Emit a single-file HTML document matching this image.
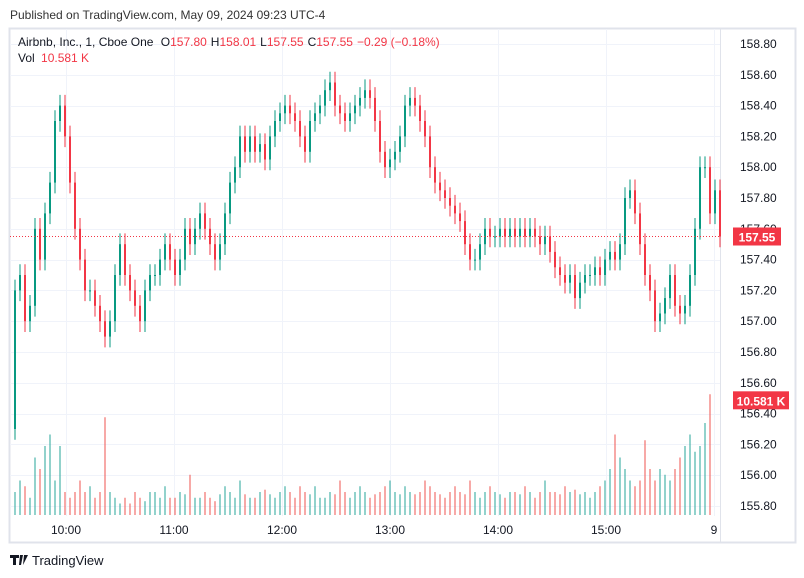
<!DOCTYPE html>
<html><head><meta charset="utf-8"><style>
body{margin:0;width:804px;height:578px;background:#fff;font-family:"Liberation Sans",sans-serif;overflow:hidden}
</style></head><body>
<svg id="c" width="804" height="578" xmlns="http://www.w3.org/2000/svg" style="position:absolute;left:0;top:0">
<text x="10" y="19" font-size="12" fill="#333">Published on TradingView.com, May 09, 2024 09:23 UTC-4</text>
<rect x="9.5" y="28.5" width="786" height="514" fill="none" stroke="#e0e3eb" stroke-width="2"/>
<line x1="720.5" y1="28" x2="720.5" y2="542" stroke="#e0e3eb"/>
<g id="grid"></g>
<g id="vol"></g>
<g id="candles"></g>
<g id="axes"></g>
<text x="18" y="46" font-size="12" fill="#131722">Airbnb, Inc., 1, Cboe One <tspan dx="4">O</tspan><tspan fill="#f23645">157.80</tspan><tspan dx="4">H</tspan><tspan fill="#f23645">158.01</tspan><tspan dx="4">L</tspan><tspan fill="#f23645">157.55</tspan><tspan dx="4">C</tspan><tspan fill="#f23645">157.55</tspan><tspan dx="4" fill="#f23645">−0.29 (−0.18%)</tspan></text>
<text x="18" y="62" font-size="12" fill="#131722">Vol <tspan dx="3" fill="#f23645">10.581 K</tspan></text>
<g><path d="M10 555h9v3h-3v7h-3v-7h-3zM20 555h3l-2 10h-2zM24 555h4l-5 10z" fill="#131722"/><text x="32" y="565" font-size="13" fill="#131722">TradingView</text></g>
</svg>
<script>
const closes=[157.2,157.3,157.0,157.1,157.6,157.4,157.7,157.9,158.3,158.4,158.2,157.9,157.6,157.4,157.2,157.2,157.1,157.0,156.9,157.0,157.3,157.5,157.3,157.2,157.1,157.0,157.2,157.3,157.3,157.4,157.5,157.4,157.3,157.4,157.6,157.5,157.6,157.7,157.6,157.5,157.4,157.5,157.7,157.9,158.0,158.2,158.1,158.2,158.1,158.15,158.05,158.2,158.3,158.35,158.4,158.35,158.3,158.2,158.1,158.3,158.35,158.4,158.5,158.55,158.4,158.35,158.3,158.35,158.4,158.45,158.5,158.45,158.3,158.1,158.0,158.05,158.1,158.2,158.4,158.45,158.4,158.3,158.2,158.0,157.9,157.85,157.8,157.75,157.7,157.65,157.5,157.4,157.4,157.5,157.6,157.55,157.55,157.6,157.55,157.6,157.55,157.6,157.55,157.6,157.55,157.5,157.55,157.45,157.35,157.3,157.25,157.3,157.15,157.25,157.3,157.3,157.35,157.3,157.4,157.45,157.4,157.5,157.8,157.85,157.7,157.5,157.3,157.2,157.0,157.05,157.15,157.3,157.1,157.05,157.1,157.3,157.6,158.0,158.0,157.7,157.85,157.55];
const firstOpen=156.3;
const volumes=[2,3,2.5,1.5,5,4,6,7,3,6,2,1.5,2,3,2,2.5,1.5,2,8.5,2,1.5,1,1.5,1,2,1.5,1.2,2,2,1.5,2.5,1.5,1.5,2,1.8,3.5,1.5,1.5,2,1.5,1.2,1.8,2.5,2,1.5,3,1.8,1.5,1.5,2,2.2,1.8,1.5,2,2.5,2,1.5,2.5,2,1.8,2.5,1.5,1.5,2,1.8,3,2,1.5,2,2.5,2,1.5,1.8,2,2.5,3,2,1.8,2.5,2,1.8,2,3,2.5,2,1.8,1.5,2,2.5,2,1.8,3,2,1.5,2,2.5,2,1.8,1.5,2,2,1.8,2.5,2,1.5,2,3,2,2,1.8,2.5,2,2.2,1.8,2,1.5,2,2.5,3,4,7,5,4,3,2.5,3,6.5,4,3,4,3.5,3,4,5,6,7,5.5,6,8,10.5];
const priceTicks=[158.8,158.6,158.4,158.2,158.0,157.8,157.6,157.4,157.2,157.0,156.8,156.6,156.4,156.2,156.0,155.8];
const timeTicks=["10:00","11:00","12:00","13:00","14:00","15:00","9"];
const timeMinutes=[30,90,150,210,270,330,390];
const lastPrice=157.55, lastVol=10.581;

const NS="http://www.w3.org/2000/svg";
function y(p){return 44+(158.8-p)*154;}
function xi(i){return 15+5*i;}
function xt(m){return 12+m*1.8;}
function vy(v){return 515-v*11.5;}
function mk(tag,attrs,parent){const e=document.createElementNS(NS,tag);for(const k in attrs)e.setAttribute(k,attrs[k]);document.getElementById(parent).appendChild(e);return e;}

priceTicks.forEach(p=>{
  const l=mk('line',{x1:10,x2:720,y1:Math.round(y(p))+0.5,y2:Math.round(y(p))+0.5,stroke:'#f0f3fa'},'grid');
  
  
  const t=mk('text',{x:740,y:y(p)+4,'font-size':12,fill:'#131722'},'axes');
  t.textContent=p.toFixed(2);
  
  
});
timeTicks.forEach((s,k)=>{
  const x=xt(timeMinutes[k]);
  const l=mk('line',{x1:Math.round(x)+0.5,x2:Math.round(x)+0.5,y1:29,y2:516,stroke:'#f0f3fa'},'grid');
  
  
  const t=mk('text',{x:x,y:534,'font-size':12,fill:'#131722','text-anchor':'middle'},'axes');
  t.textContent=s;
  
  
});
let prev=firstOpen;
closes.forEach((c,i)=>{
  const o=prev, up=c>=o, col=up?'#089981':'#f23645';
  const hi=Math.max(o,c)+0.07, lo=Math.min(o,c)-0.07;
  const x=xi(i);
  const w=mk('line',{x1:x,x2:x,y1:y(hi),y2:y(lo),stroke:col,'stroke-width':1},'candles');
  
  
  const top=y(Math.max(o,c)), h=Math.max(1,y(Math.min(o,c))-top);
  const b=mk('rect',{x:x-1,y:top,width:2,height:h,fill:col},'candles');
  
  
  const v=volumes[i];
  const vb=mk('rect',{x:x-1,y:vy(v),width:2,height:515-vy(v),fill:up?'rgba(38,166,154,0.5)':'rgba(239,83,80,0.5)'},'vol');
  
  
  prev=c;
});
const pl=mk('line',{x1:10,x2:720,y1:y(lastPrice),y2:y(lastPrice),stroke:'#f23645','stroke-dasharray':'1,2'},'axes');


const pb=mk('rect',{x:733,y:y(lastPrice)-9,width:48,height:18,fill:'#f23645'},'axes');


const pt=mk('text',{x:757,y:y(lastPrice)+5,'font-size':12,'font-weight':'bold',fill:'#fff','text-anchor':'middle'},'axes');
pt.textContent=lastPrice.toFixed(2);


const vbg=mk('rect',{x:733,y:vy(lastVol)-2,width:56,height:18,fill:'#f23645'},'axes');


const vt=mk('text',{x:761,y:vy(lastVol)+12,'font-size':12,'font-weight':'bold',fill:'#fff','text-anchor':'middle'},'axes');
vt.textContent=lastVol.toFixed(3)+' K';


</script>
</body></html>
